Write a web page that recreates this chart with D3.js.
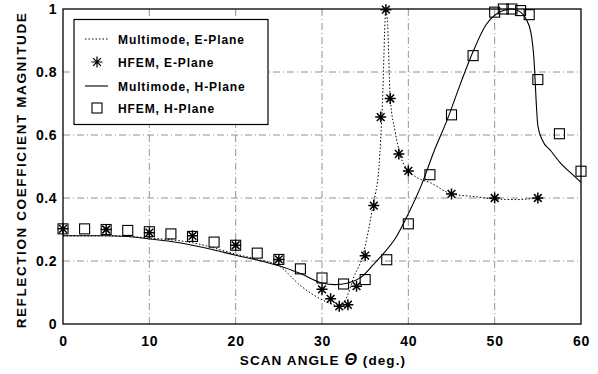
<!DOCTYPE html>
<html>
<head>
<meta charset="utf-8">
<script src="https://cdn.jsdelivr.net/npm/d3@7"></script>
<style>
  body { margin: 0; background: #fff; }
  svg { display: block; font-family: "Liberation Sans", Arial, sans-serif; font-weight: bold; }
</style>
</head>
<body>
<svg id="chart" width="598" height="374"></svg>
<script>
// multimode, E-plane (dotted)
const multiE = [
  [0, 0.28], [5, 0.28], [10, 0.273], [15, 0.258], [20, 0.222], [22.5, 0.205], [25, 0.185],
  [27.5, 0.122], [30, 0.077], [31, 0.065], [32, 0.056], [32.7, 0.075], [33.7, 0.15],
  [34.7, 0.215], [35.9, 0.376], [36.6, 0.5], [37, 0.7], [37.4, 0.998], [37.6, 0.95],
  [37.9, 0.72], [38.5, 0.607], [39.1, 0.532], [39.9, 0.49], [41, 0.465], [42.6, 0.448],
  [45, 0.413], [47.5, 0.405], [50, 0.397], [52.5, 0.395], [55, 0.4]
];
// HFEM, E-plane (stars)
const hfemE = [
  [0, 0.302], [5, 0.30], [10, 0.29], [15, 0.28], [20, 0.25], [25, 0.205], [30, 0.11],
  [31, 0.08], [32, 0.056], [33, 0.061], [34, 0.12], [35, 0.217], [36, 0.376], [36.8, 0.657],
  [37.4, 0.998], [37.9, 0.716], [38.9, 0.54], [40, 0.486], [45, 0.413], [50, 0.40], [55, 0.40]
];
// multimode, H-plane (solid)
const multiH = [
  [0, 0.28], [5, 0.28], [7.5, 0.278], [10, 0.27], [12.5, 0.262], [15, 0.25], [17.5, 0.235],
  [20, 0.218], [22.5, 0.203], [25, 0.185], [27.5, 0.16], [30, 0.13], [31.5, 0.125], [33, 0.13],
  [34.5, 0.148], [36, 0.19], [37, 0.22], [38.5, 0.272], [40, 0.35], [41.5, 0.44], [43, 0.55],
  [44.5, 0.648], [46, 0.76], [47.5, 0.865], [49, 0.95], [50, 0.98], [51, 0.995], [52, 1.0],
  [53, 0.99], [53.6, 0.97], [54.2, 0.925], [54.6, 0.82], [54.8, 0.71], [55, 0.63], [55.5, 0.585],
  [56.5, 0.55], [57.5, 0.515], [59, 0.475], [60, 0.45]
];
// HFEM, H-plane (squares)
const hfemH = [
  [0, 0.302], [2.5, 0.302], [5, 0.30], [7.5, 0.297], [10, 0.293], [12.5, 0.286], [15, 0.278],
  [17.5, 0.26], [20, 0.25], [22.5, 0.225], [25, 0.205], [27.5, 0.175], [30, 0.146],
  [32.5, 0.127], [35, 0.141], [37.5, 0.204], [40, 0.318], [42.5, 0.474], [45, 0.664],
  [47.5, 0.852], [50, 0.99], [51, 1.0], [52, 1.0], [53, 0.995], [54, 0.982], [55, 0.776],
  [57.5, 0.604], [60, 0.485]
];
const xTicks = [0, 10, 20, 30, 40, 50, 60];
const yTicks = [0, 0.2, 0.4, 0.6, 0.8, 1];
const yTickLabels = ["0", "0.2", "0.4", "0.6", "0.8", "1"];
const legendLabels = ["Multimode, E-Plane", "HFEM, E-Plane", "Multimode, H-Plane", "HFEM, H-Plane"];

const svg = d3.select("#chart");
const pLeft = 63, pRight = 581, pTop = 9, pBottom = 324;

const x = d3.scaleLinear().domain([0, 60]).range([pLeft, pRight]);
const y = d3.scaleLinear().domain([0, 1]).range([pBottom, pTop]);

// grid
const grid = svg.append("g")
  .attr("stroke", "#777")
  .attr("stroke-width", 0.8)
  .attr("stroke-dasharray", "7,3,1,3");
grid.selectAll(".gx").data(xTicks.slice(1, -1)).join("line")
  .attr("x1", d => x(d)).attr("x2", d => x(d))
  .attr("y1", pTop).attr("y2", pBottom);
grid.selectAll(".gy").data(yTicks.slice(1, -1)).join("line")
  .attr("x1", pLeft).attr("x2", pRight)
  .attr("y1", d => y(d)).attr("y2", d => y(d));

// frame
svg.append("rect")
  .attr("x", pLeft).attr("y", pTop)
  .attr("width", pRight - pLeft).attr("height", pBottom - pTop)
  .attr("fill", "none").attr("stroke", "#000").attr("stroke-width", 1.3);

// axes (labels only)
const xAxis = d3.axisBottom(x).tickValues(xTicks).tickSize(0).tickPadding(12);
svg.append("g").attr("transform", `translate(0,${pBottom})`).call(xAxis)
  .call(g => g.select(".domain").remove())
  .selectAll("text").attr("font-size", 14).attr("font-weight", "bold").attr("letter-spacing", 0.8)
  .attr("font-family", "Liberation Sans, Arial, sans-serif").attr("fill", "#000");

const yAxis = d3.axisLeft(y).tickValues(yTicks).tickSize(0).tickPadding(6)
  .tickFormat((d, i) => yTickLabels[i]);
svg.append("g").attr("transform", `translate(${pLeft},0)`).call(yAxis)
  .call(g => g.select(".domain").remove())
  .selectAll("text").attr("font-size", 14).attr("font-weight", "bold").attr("letter-spacing", 0.5)
  .attr("font-family", "Liberation Sans, Arial, sans-serif").attr("fill", "#000");

// lines
const line = d3.line().x(d => x(d[0])).y(d => y(d[1])).curve(d3.curveMonotoneX);
svg.append("path").datum(multiE).attr("d", line)
  .attr("fill", "none").attr("stroke", "#000").attr("stroke-width", 1)
  .attr("stroke-dasharray", "1.5,2");
svg.append("path").datum(multiH).attr("d", line)
  .attr("fill", "none").attr("stroke", "#000").attr("stroke-width", 1.1);

// markers
const starPath = (r) => {
  const a = r * 0.707;
  return `M${-r},0L${r},0M0,${-r}L0,${r}M${-a},${-a}L${a},${a}M${-a},${a}L${a},${-a}`;
};
svg.append("g").selectAll("rect").data(hfemH).join("rect")
  .attr("x", d => x(d[0]) - 5).attr("y", d => y(d[1]) - 5)
  .attr("width", 10).attr("height", 10)
  .attr("fill", "none").attr("stroke", "#000").attr("stroke-width", 1.1);
svg.append("g").selectAll("path").data(hfemE).join("path")
  .attr("transform", d => `translate(${x(d[0])},${y(d[1])})`)
  .attr("d", starPath(5.5))
  .attr("stroke", "#000").attr("stroke-width", 1.5);

// legend
const lg = svg.append("g");
lg.append("rect").attr("x", 74).attr("y", 19.5).attr("width", 194).attr("height", 105)
  .attr("fill", "#fff").attr("stroke", "#000").attr("stroke-width", 1.2);
const rowsY = [39, 62, 86, 108];
lg.selectAll("text").data(legendLabels).join("text")
  .attr("x", 118).attr("y", (d, i) => rowsY[i] + 4.5)
  .attr("font-size", 12).attr("letter-spacing", 0.9).attr("fill", "#000").text(d => d);
lg.append("line").attr("x1", 85).attr("x2", 108).attr("y1", rowsY[0]).attr("y2", rowsY[0])
  .attr("stroke", "#000").attr("stroke-dasharray", "1.5,2");
lg.append("path").attr("transform", `translate(97,${rowsY[1]})`).attr("d", starPath(5.5))
  .attr("stroke", "#000").attr("stroke-width", 1.2);
lg.append("line").attr("x1", 85).attr("x2", 108).attr("y1", rowsY[2]).attr("y2", rowsY[2])
  .attr("stroke", "#000").attr("stroke-width", 1.1);
lg.append("rect").attr("x", 92).attr("y", rowsY[3] - 5).attr("width", 10).attr("height", 10)
  .attr("fill", "none").attr("stroke", "#000").attr("stroke-width", 1.1);

// axis titles
svg.append("text")
  .attr("transform", `translate(26,170) rotate(-90)`)
  .attr("text-anchor", "middle").attr("font-size", 13.5).attr("letter-spacing", 1.6)
  .text("REFLECTION COEFFICIENT MAGNITUDE");
const xt = svg.append("text").attr("x", 323).attr("y", 365)
  .attr("text-anchor", "middle").attr("font-size", 13.5).attr("letter-spacing", 1.1);
xt.append("tspan").text("SCAN ANGLE ");
xt.append("tspan").attr("font-style", "italic").attr("font-size", 16).text("Θ");
xt.append("tspan").text(" (deg.)");
</script>
</body>
</html>
